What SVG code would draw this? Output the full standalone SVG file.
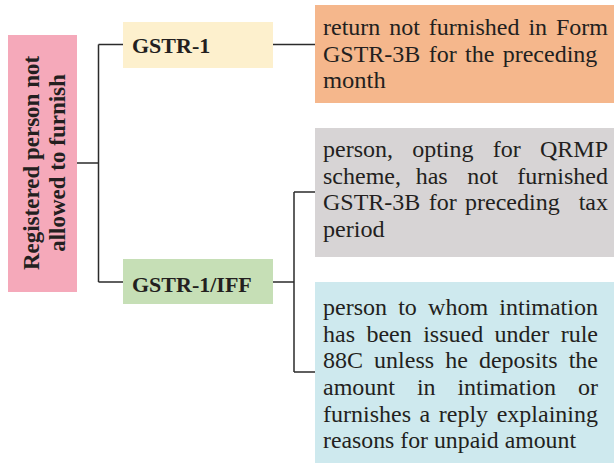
<svg xmlns="http://www.w3.org/2000/svg" width="614" height="463" viewBox="0 0 614 463">
<defs>
<style>
text{font-family:'Liberation Serif','Times New Roman','DejaVu Serif',serif;fill:#231f20}
.t{font-size:24px;font-weight:normal}
.b{font-weight:bold}
.c{stroke:#2b2b2b;stroke-width:1.5;fill:none}
</style>
</defs>
<rect width="614" height="463" fill="#ffffff"/>
<g id="connectors">
<path class="c" d="M77 163H98.5M98.5 44.5V282M98.5 44.5H123M98.5 282H123M273 44.5H315M273 282H294M294 192V372M294 192H315M294 372H315"/>
</g>
<g id="root">
<rect x="8" y="35" width="69" height="257" fill="#f5a9ba"/>
<text class="b" font-size="23" text-anchor="middle" transform="translate(38.5,163) rotate(-90)">Registered person not</text>
<text class="b" font-size="23" text-anchor="middle" transform="translate(65,163) rotate(-90)">allowed to furnish</text>
</g>
<g id="gstr1">
<rect x="123" y="22" width="150" height="46" fill="#fdf0cd"/>
<text class="b" font-size="22" x="132" y="53.3">GSTR-1</text>
</g>
<g id="gstr1iff">
<rect x="123" y="259" width="150" height="45" fill="#c6dfb6"/>
<text class="b" font-size="22" x="132" y="292">GSTR-1/IFF</text>
</g>
<g id="orange">
<rect x="315" y="5" width="299" height="98" fill="#f5b78c"/>
<text class="t" y="35"><tspan x="323">return</tspan><tspan x="389.23">not</tspan><tspan x="428.82">furnished</tspan><tspan x="528.39">in</tspan><tspan x="555.98">Form</tspan></text>
<text class="t" y="61.7"><tspan x="323">GSTR-3B</tspan><tspan x="428.69">for</tspan><tspan x="465.02">the</tspan><tspan x="502.7">preceding</tspan></text>
<text class="t" x="323" y="88.3" textLength="62.7" lengthAdjust="spacingAndGlyphs">month</text>
</g>
<g id="gray">
<rect x="315" y="128" width="299" height="129" fill="#d7d4d5"/>
<text class="t" y="157"><tspan x="323">person,</tspan><tspan x="412.21">opting</tspan><tspan x="492.78">for</tspan><tspan x="539.99">QRMP</tspan></text>
<text class="t" y="183.7"><tspan x="323">scheme,</tspan><tspan x="415.68">has</tspan><tspan x="467.17">not</tspan><tspan x="517.34">furnished</tspan></text>
<text class="t" y="210.3"><tspan x="323">GSTR-3B</tspan><tspan x="428.69">for</tspan><tspan x="465.02">preceding</tspan><tspan x="578.66">tax</tspan></text>
<text class="t" x="323" y="237" textLength="61.7" lengthAdjust="spacingAndGlyphs">period</text>
</g>
<g id="blue">
<rect x="315" y="282" width="299" height="181" fill="#cee9ee"/>
<text class="t" y="315"><tspan x="323">person</tspan><tspan x="398.2">to</tspan><tspan x="428.09">whom</tspan><tspan x="499.31">intimation</tspan></text>
<text class="t" y="341.7"><tspan x="323">has</tspan><tspan x="366.42">been</tspan><tspan x="423.16">issued</tspan><tspan x="494.59">under</tspan><tspan x="560.67">rule</tspan></text>
<text class="t" y="368.3"><tspan x="323">88C</tspan><tspan x="374.09">unless</tspan><tspan x="445.17">he</tspan><tspan x="478.91">deposits</tspan><tspan x="568.66">the</tspan></text>
<text class="t" y="395"><tspan x="323">amount</tspan><tspan x="416.88">in</tspan><tspan x="457.43">intimation</tspan><tspan x="578">or</tspan></text>
<text class="t" y="421.7"><tspan x="323">furnishes</tspan><tspan x="419.55">a</tspan><tspan x="438.78">reply</tspan><tspan x="496.67">explaining</tspan></text>
<text class="t" x="323" y="448.3" textLength="253" lengthAdjust="spacingAndGlyphs">reasons for unpaid amount</text>
</g>
</svg>
